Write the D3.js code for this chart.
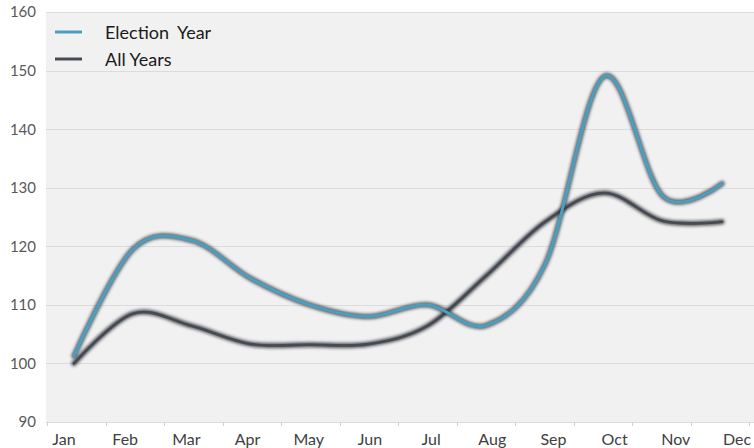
<!DOCTYPE html>
<html>
<head>
<meta charset="utf-8">
<script src="https://cdn.jsdelivr.net/npm/d3@7"></script>
<style>
  html, body { margin: 0; padding: 0; background: #ffffff; }
  svg { display: block; }
</style>
</head>
<body>
<svg id="chart" width="754" height="448"></svg>
<script>
const months = ["Jan","Feb","Mar","Apr","May","Jun","Jul","Aug","Sep","Oct","Nov","Dec"];
const electionYear = [101.3, 119.5, 121, 114.5, 110, 108, 110, 106.5, 117, 149, 128.5, 130.7];
const allYears = [100, 108.5, 106.4, 103.3, 103.2, 103.3, 106.4, 115, 124.2, 129.1, 124.3, 124.2];
const yTicks = [90, 100, 110, 120, 130, 140, 150, 160];
const seriesNames = ["Election Year", "All Years"];
const seriesColors = ["#4a9fc1", "#464a52"];

const svg = d3.select("#chart");
const plot = { left: 46, right: 754, top: 12, bottom: 422 };

const y = d3.scaleLinear().domain([90, 160]).range([plot.bottom, plot.top]);
const xLine = d3.scalePoint().domain(months).range([74, 722]);
const xLabel = d3.scalePoint().domain(months).range([64, 737]);
const xBand = d3.scaleBand().domain(months).range([47, 749]);

const defs = svg.append("defs");
const f = defs.append("filter").attr("id", "halo").attr("x", "-5%").attr("y", "-5%").attr("width", "110%").attr("height", "110%");
f.append("feGaussianBlur").attr("stdDeviation", 1.4);

// plot background
svg.append("rect")
  .attr("x", plot.left).attr("y", plot.top)
  .attr("width", plot.right - plot.left).attr("height", plot.bottom - plot.top)
  .attr("fill", "#f1f1f1");

// gridlines
svg.append("g").selectAll("line").data(yTicks).join("line")
  .attr("x1", plot.left).attr("x2", plot.right)
  .attr("y1", d => Math.round(y(d)) + 0.5).attr("y2", d => Math.round(y(d)) + 0.5)
  .attr("stroke", "#dcdcdc").attr("stroke-width", 1);

// x tick marks (band boundaries)
const tickXs = months.map(m => xBand(m)).concat([xBand.range()[1]]);
svg.append("g").selectAll("line").data(tickXs).join("line")
  .attr("x1", d => Math.round(d) + 0.5).attr("x2", d => Math.round(d) + 0.5)
  .attr("y1", plot.bottom).attr("y2", plot.bottom + 4)
  .attr("stroke", "#d0d0d0");

// y labels
svg.append("g").selectAll("text").data(yTicks).join("text")
  .attr("x", 36).attr("y", d => y(d))
  .attr("dy", "0.36em")
  .attr("text-anchor", "end")
  .attr("font-family", "Lato, 'Open Sans', sans-serif")
  .attr("font-size", 15)
  .attr("fill", "#595959")
  .text(d => d);

// x labels
svg.append("g").selectAll("text").data(months).join("text")
  .attr("x", d => xLabel(d)).attr("y", 445)
  .attr("text-anchor", "middle")
  .attr("font-family", "Lato, 'Open Sans', sans-serif")
  .attr("font-size", 16)
  .attr("fill", "#404040")
  .text(d => d);

// lines
const line = d3.line()
  .x((d, i) => xLine(months[i]))
  .y(d => y(d))
  .curve(d3.curveCardinal.tension(0));

const data = [electionYear, allYears];
[1, 0].forEach(k => {
  const g = svg.append("g");
  g.append("path").attr("d", line(data[k]))
    .attr("fill", "none").attr("stroke", "#2a2d33").attr("stroke-width", 5.5)
    .attr("stroke-opacity", 0.75).attr("stroke-linecap", "round").attr("stroke-linejoin", "round")
    .attr("filter", "url(#halo)");
  g.append("path").attr("d", line(data[k]))
    .attr("fill", "none").attr("stroke", seriesColors[k]).attr("stroke-width", k === 0 ? 3 : 2.6)
    .attr("stroke-linecap", "round").attr("stroke-linejoin", "round");
});

// legend
const legend = svg.append("g");
const legendY = [32, 59];
seriesNames.forEach((name, i) => {
  legend.append("line")
    .attr("x1", 55).attr("x2", 82).attr("y1", legendY[i]).attr("y2", legendY[i])
    .attr("stroke", seriesColors[i]).attr("stroke-width", 3);
  legend.append("text")
    .attr("x", 105).attr("y", legendY[i] + 6.5)
    .attr("font-family", "Lato, 'Open Sans', sans-serif")
    .attr("font-size", 18)
    .attr("fill", "#1a1a1a")
    .attr("word-spacing", i === 0 ? 4 : 0)
    .text(name);
});
</script>
</body>
</html>
